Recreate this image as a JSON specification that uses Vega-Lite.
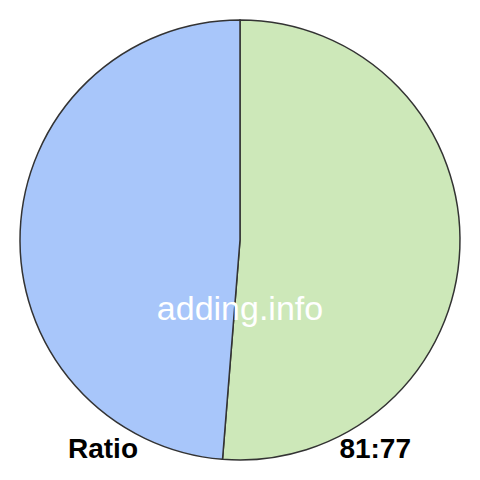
{
  "$schema": "https://vega.github.io/schema/vega-lite/v6.json",
  "width": 480,
  "height": 480,
  "padding": 0,
  "autosize": {"type": "fit", "contains": "padding"},
  "background": "white",
  "config": {"view": {"stroke": null}},
  "data": {
    "values": [
      {"part": "a", "value": 81, "rank": 1},
      {"part": "b", "value": 77, "rank": 2}
    ]
  },
  "layer": [
    {
      "mark": {"type": "arc", "outerRadius": 220, "stroke": "#333333", "strokeWidth": 1.5},
      "encoding": {
        "theta": {"field": "value", "type": "quantitative", "stack": true},
        "order": {"field": "rank", "type": "quantitative"},
        "color": {
          "field": "part",
          "type": "nominal",
          "legend": null,
          "scale": {"domain": ["a", "b"], "range": ["#cde8b9", "#a8c6fa"]}
        }
      }
    },
    {
      "data": {"values": [{"t": "adding.info"}]},
      "mark": {"type": "text", "font": "Liberation Sans", "fontSize": 34, "color": "white", "align": "center", "baseline": "alphabetic"},
      "encoding": {
        "text": {"field": "t"},
        "x": {"datum": 240, "type": "quantitative", "scale": {"domain": [0, 480], "nice": false}, "axis": null},
        "y": {"datum": 320, "type": "quantitative", "scale": {"domain": [0, 480], "nice": false, "reverse": true}, "axis": null}
      }
    },
    {
      "data": {"values": [{"t": "Ratio"}]},
      "mark": {"type": "text", "font": "Liberation Sans", "fontSize": 28, "fontWeight": "bold", "color": "black", "align": "left", "baseline": "alphabetic"},
      "encoding": {
        "text": {"field": "t"},
        "x": {"datum": 68, "type": "quantitative"},
        "y": {"datum": 458, "type": "quantitative"}
      }
    },
    {
      "data": {"values": [{"t": "81:77"}]},
      "mark": {"type": "text", "font": "Liberation Sans", "fontSize": 28, "fontWeight": "bold", "color": "black", "align": "right", "baseline": "alphabetic"},
      "encoding": {
        "text": {"field": "t"},
        "x": {"datum": 411, "type": "quantitative"},
        "y": {"datum": 458, "type": "quantitative"}
      }
    }
  ]
}
